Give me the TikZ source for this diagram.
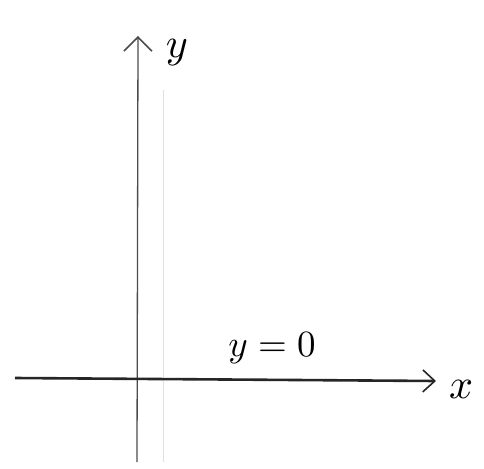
\documentclass[tikz,border=0pt]{standalone}
\usepackage{graphicx}
\usetikzlibrary{arrows.meta}
\newcommand{\biglab}[2][3.5]{\scalebox{#1}{#2}}
\begin{document}
\begin{tikzpicture}[x=1pt,y=-1pt,
  axisy/.style={draw=black!70,line width=1.3pt,-{Straight Barb[length=14pt,width=28pt,line width=1.6pt]}},
  axisx/.style={draw=black!85,line width=2.6pt,-{Straight Barb[length=12pt,width=22pt,line width=1.6pt]}},
  lab/.style={inner sep=0pt},
  faint/.style={draw=black!12,line width=0.8pt}]
\useasboundingbox (0,0) rectangle (484,468);
\fill[white] (0,0) rectangle (484,468);
\coordinate (fa) at (163,90);
\coordinate (fb) at (163,462);
\draw[faint] (fa) -- (fb);
\coordinate (yb) at (137,462);
\coordinate (yt) at (138,36);
\draw[axisy] (yb) -- (yt);
\coordinate (xb) at (15,378);
\coordinate (xt) at (436,381);
\draw[axisx] (xb) -- (xt);
\node[lab] (ylab) at (177,53) {\biglab[4.2]{$y$}};
\node[lab] (xlab) at (461,389) {\biglab[4.2]{$x$}};
\node[lab] (eq) at (272,348) {\biglab[3.7]{$y=0$}};
\end{tikzpicture}
\end{document}
